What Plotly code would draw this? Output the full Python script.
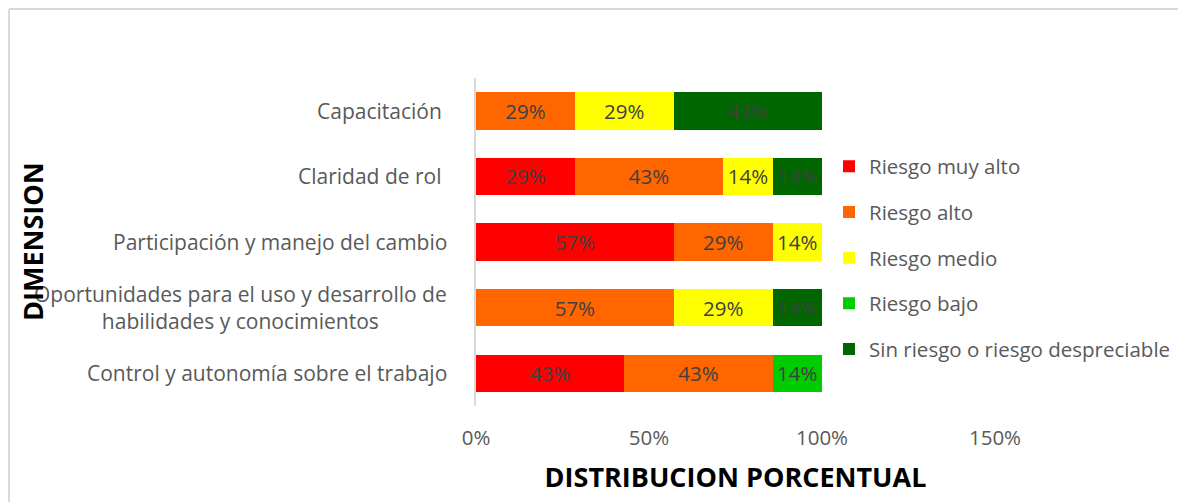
import plotly.graph_objects as go

categories = [
    "Control y autonomía sobre el trabajo",
    "Oportunidades para el uso y desarrollo de<br>habilidades y conocimientos",
    "Participación y manejo del cambio",
    "Claridad de rol ",
    "Capacitación ",
]
series_names = [
    "Riesgo muy alto",
    "Riesgo alto",
    "Riesgo medio",
    "Riesgo bajo",
    "Sin riesgo o riesgo despreciable",
]
muy_alto = [0.4286, None, 0.5714, 0.2857, None]
alto = [0.4286, 0.5714, 0.2857, 0.4286, 0.2857]
medio = [None, 0.2857, 0.1429, 0.1429, 0.2857]
bajo = [0.1429, None, None, None, None]
sin_riesgo = [None, 0.1429, None, 0.1429, 0.4286]
colors = ["#FF0000", "#FF6600", "#FFFF00", "#00CC00", "#006600"]
x_ticks = [0, 0.5, 1.0, 1.5]
x_tick_labels = ["0%", "50%", "100%", "150%"]

values = [muy_alto, alto, medio, bajo, sin_riesgo]
FONT = "'Open Sans', sans-serif"

# plot area in figure pixels (page adds 8px body margin)
L, R, T, B = 468, 987, 70, 398
W, H = R - L, B - T

fig = go.Figure()
for i, (name, vals, col) in enumerate(zip(series_names, values, colors)):
    fig.add_trace(go.Bar(
        y=categories, x=vals, name=name, orientation="h",
        marker=dict(color=col, line=dict(width=0)),
        text=[None if v is None else f"{round(v*100):.0f}%" for v in vals],
        textposition="inside", insidetextanchor="middle",
        textangle=0, constraintext="none",
        textfont=dict(family=FONT, size=20.5, color="#404040"),
        legendgroup=f"g{i}",
    ))

for cat in categories:
    fig.add_annotation(
        x=0, y=cat, xref="paper", yref="y",
        xanchor="right", yanchor="middle", xshift=-27,
        text=cat.replace(" ", "&nbsp;") if cat.endswith(" ") else cat,
        align="center", showarrow=False,
        font=dict(family=FONT, size=21, color="#595959"),
    )

fig.update_layout(
    width=1186, height=502,
    margin=dict(l=L, r=1186 - R, t=T, b=502 - B),
    paper_bgcolor="white", plot_bgcolor="white",
    barmode="stack", bargap=0.43,
    showlegend=True,
    legend=dict(
        x=(821 - L) / W, y=(B - 250) / H, xanchor="left", yanchor="middle",
        traceorder="grouped", tracegroupgap=16,
        font=dict(family=FONT, size=20.5, color="#595959"),
        bgcolor="rgba(0,0,0,0)",
    ),
    xaxis=dict(
        range=[0, 1.5], tickvals=x_ticks, ticktext=x_tick_labels,
        showgrid=False, zeroline=False, showline=False,
        tickfont=dict(family=FONT, size=20.5, color="#595959"),
        ticks="", ticklabelstandoff=17,
        title=dict(text="<b>DISTRIBUCION PORCENTUAL</b>", standoff=18,
                   font=dict(family=FONT, size=27, color="#000000")),
    ),
    yaxis=dict(
        categoryorder="array", categoryarray=categories,
        showticklabels=False, showgrid=False, zeroline=False,
        showline=True, linecolor="#D9D9D9", linewidth=2,
        ticks="",
    ),
)

fig.add_annotation(
    x=-(L - 24) / W, y=(B - 234) / H, xref="paper", yref="paper",
    text="<b>DIMENSION</b>", textangle=-90, showarrow=False,
    xanchor="center", yanchor="middle",
    font=dict(family=FONT, size=27, color="#000000"),
)

# chart border
fig.add_shape(type="line", xref="paper", yref="paper",
              x0=-(L - 1) / W, x1=(1186 - L) / W,
              y0=(B - 1) / H, y1=(B - 1) / H,
              line=dict(color="#D9D9D9", width=2))
fig.add_shape(type="line", xref="paper", yref="paper",
              x0=-(L - 1) / W, x1=-(L - 1) / W,
              y0=(B - 1) / H, y1=-(502 - B) / H,
              line=dict(color="#D9D9D9", width=2))

fig.write_html("out.html")
